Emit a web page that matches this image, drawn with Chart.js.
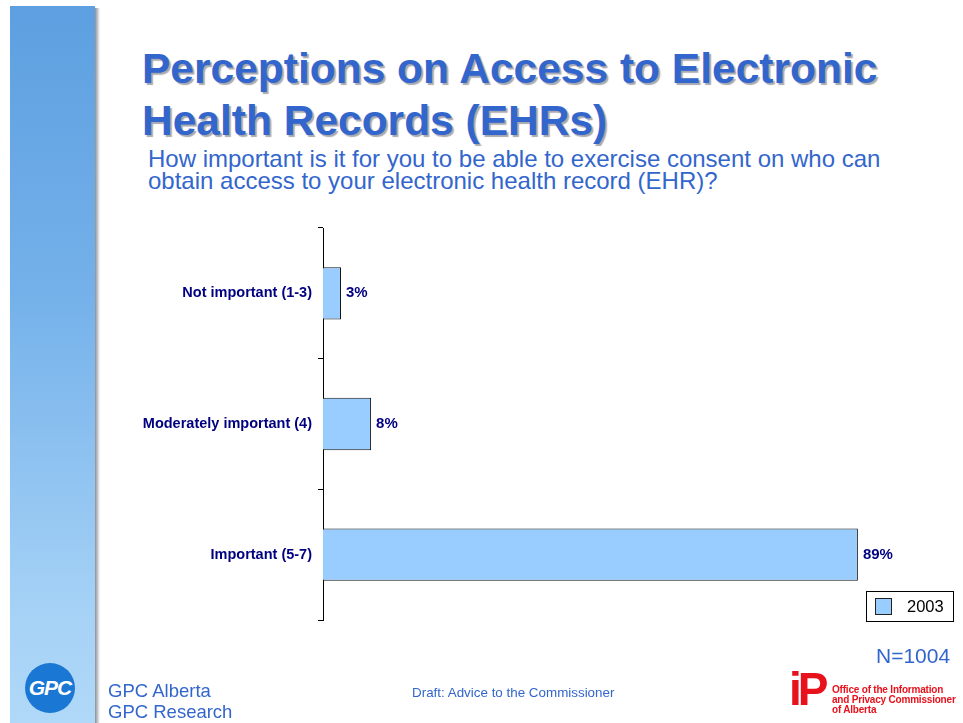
<!DOCTYPE html>
<html>
<head>
<meta charset="utf-8">
<title>Perceptions on Access to Electronic Health Records (EHRs)</title>
<script src="https://cdn.jsdelivr.net/npm/chart.js@4"></script>
<style>
  html, body { margin: 0; padding: 0; background: #fff; }
  body { width: 963px; height: 723px; position: relative; overflow: hidden; font-family: "Liberation Sans", Arial, sans-serif; }
  #sidebar { position: absolute; left: 10px; top: 6px; width: 85px; height: 717px;
    background: linear-gradient(to bottom, #5d9fe0 0%, #74b1ea 40%, #a6d2f6 85%, #b0d8f8 100%); }
  #sidebar-shadow { position: absolute; left: 95px; top: 8px; width: 5px; height: 715px;
    background: linear-gradient(to right, #8a8f96, #d8dadd 70%, #fff); }
  #logo { position: absolute; left: 25px; top: 663px; width: 50px; height: 50px; border-radius: 50%;
    background: #1a77d4; color: #fff; font: italic bold 21px "Liberation Sans", Arial, sans-serif;
    text-align: center; line-height: 50px; letter-spacing: -1px; }
  h1 { position: absolute; left: 142px; top: 43px; margin: 0; font-size: 42.5px; line-height: 52px;
    font-weight: bold; color: #3366cc; text-shadow: 2px 2px 1px #a8a8b0; white-space: nowrap; }
  #question { position: absolute; left: 148px; top: 148px; margin: 0; font-size: 24px; line-height: 22px;
    color: #3366cc; white-space: nowrap; }
  #chart-wrap { position: absolute; left: 0; top: 0; width: 963px; height: 723px; }
  #legend { position: absolute; left: 866px; top: 591px; width: 86px; height: 29px; border: 1px solid #000;
    background: #fff; font-size: 16.5px; color: #000; }
  #legend .swatch { position: absolute; left: 8px; top: 6px; width: 15px; height: 15px; background: #99ccff; border: 1px solid #222; }
  #legend .text { position: absolute; left: 40px; top: 5px; }
  #n { position: absolute; left: 876px; top: 644px; font-size: 21px; color: #3366cc; }
  #gpc { position: absolute; left: 108px; top: 680px; font-size: 18.5px; line-height: 21px; color: #3366cc; }
  #draft { position: absolute; left: 412px; top: 685px; font-size: 13.4px; color: #3366cc; }
  #oipc-mark { position: absolute; left: 789px; top: 662px; font: 900 46px "Liberation Sans", Arial, sans-serif;
    color: #e8121c; letter-spacing: -4px; }
  #oipc-text { position: absolute; left: 832px; top: 685px; font: bold 10px "Liberation Sans", Arial, sans-serif;
    line-height: 10px; color: #e8121c; letter-spacing: -0.2px; }
</style>
</head>
<body>
<div id="sidebar"></div>
<div id="sidebar-shadow"></div>
<div id="logo">GPC</div>

<h1>Perceptions on Access to Electronic<br>Health Records (EHRs)</h1>
<p id="question">How important is it for you to be able to exercise consent on who can<br>obtain access to your electronic health record (EHR)?</p>

<div id="chart-wrap"><canvas id="chart-consent"></canvas></div>

<div id="legend"><div class="swatch"></div><div class="text" id="legend-text"></div></div>
<div id="n">N=1004</div>

<div id="gpc">GPC Alberta<br>GPC Research</div>
<div id="draft">Draft: Advice to the Commissioner</div>
<div id="oipc-mark">iP</div>
<div id="oipc-text">Office of the Information<br>and Privacy Commissioner<br>of Alberta</div>

<script>
const categories = ["Not important (1-3)", "Moderately important (4)", "Important (5-7)"];
const seriesLabel = "2003";
const percentages = [3, 8, 89];

document.getElementById("legend-text").textContent = seriesLabel;

// writes "n%" just to the right of each bar
const valueLabels = {
    id: "valueLabels",
    afterDatasetsDraw(chart) {
        const ctx = chart.ctx;
        ctx.save();
        ctx.font = "bold 15px 'Liberation Sans', Arial, sans-serif";
        ctx.fillStyle = "#000080";
        ctx.textAlign = "left";
        ctx.textBaseline = "middle";
        chart.getDatasetMeta(0).data.forEach(function(bar, i) {
            ctx.fillText(chart.data.datasets[0].data[i] + "%", bar.x + 5, bar.y);
        });
        ctx.restore();
    }
};

const canvas = document.getElementById("chart-consent");

const chartConsent = new Chart(canvas, {
    type: "bar",
    data: {
        labels: categories,
        datasets: [
            {
                label: seriesLabel,
                data: percentages,
                backgroundColor: "#99ccff",
                borderColor: "#111",
                borderWidth: 1,
                barPercentage: 0.4,
                categoryPercentage: 1
            }
        ]
    },
    options: {
        indexAxis: "y",
        responsive: true,
        maintainAspectRatio: false,
        animation: false,
        layout: {
            padding: { left: 0, top: 228, right: 39, bottom: 103 }
        },
        plugins: {
            legend: { display: false },
            tooltip: { enabled: false }
        },
        scales: {
            x: {
                display: false,
                min: 0,
                max: 100
            },
            y: {
                afterFit: function(scale) { scale.width = 323; },
                border: { display: true, color: "#000", width: 1 },
                grid: {
                    offset: true,
                    drawOnChartArea: false,
                    drawTicks: true,
                    tickLength: 5,
                    color: "#000"
                },
                ticks: {
                    padding: 6,
                    color: "#000080",
                    font: { family: "'Liberation Sans', Arial, sans-serif", size: 14.5, weight: "bold" }
                }
            }
        }
    },
    plugins: [valueLabels]
});
</script>
</body>
</html>
